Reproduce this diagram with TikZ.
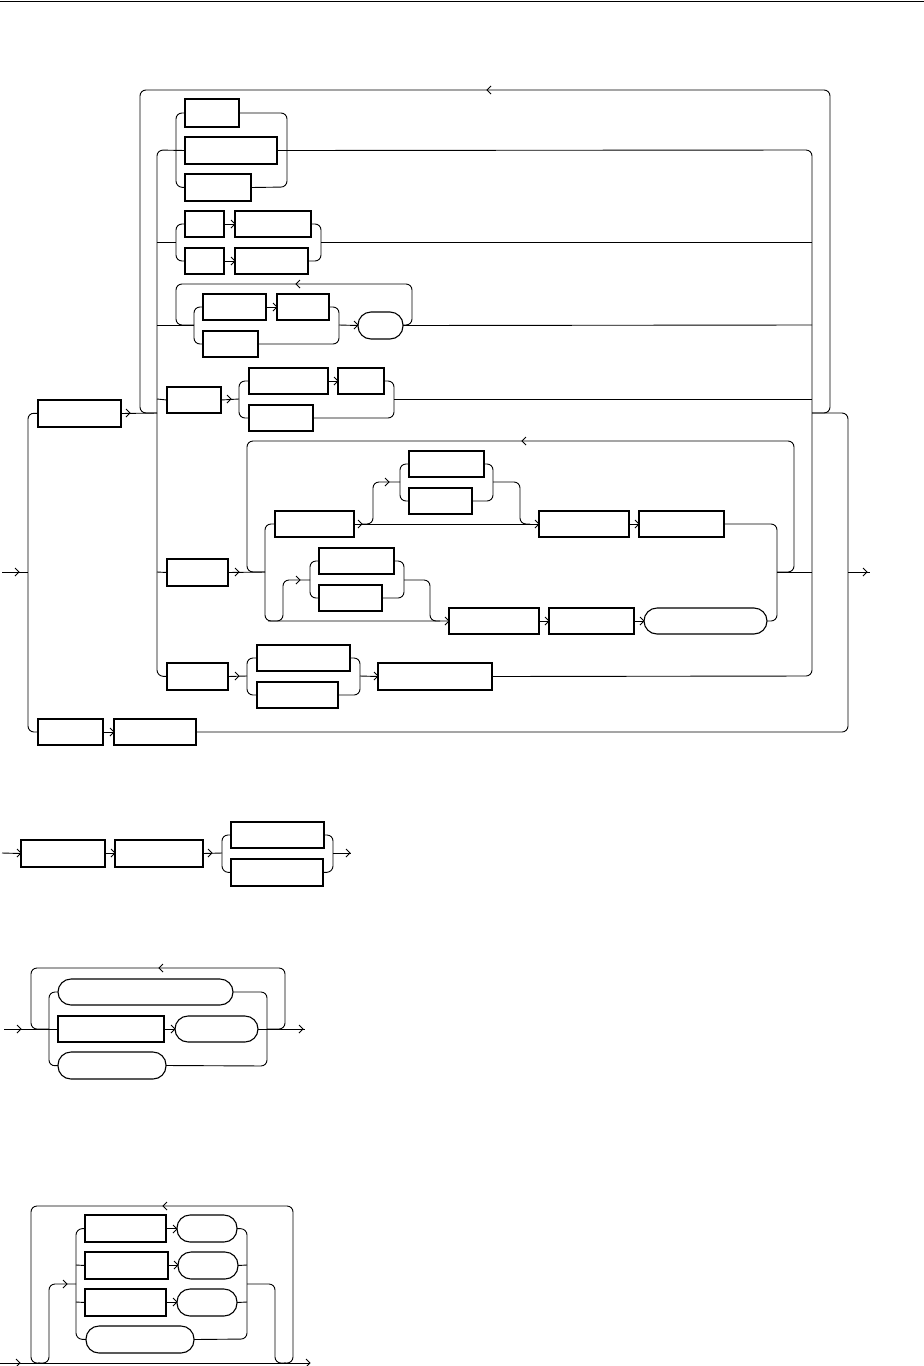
\documentclass[tikz,border=0pt]{standalone}
\usepackage{tikz}
\newcommand{\bx}[6]{%
  \node[draw, line width=#6, inner sep=0pt, outer sep=0pt, anchor=north west,
        minimum width={(#4-#2)*1pt}, minimum height={(#5-#3)*1pt}] (#1) at (#2,#3) {};
  \draw[line width=1.8pt] (#1.north east) -- (#1.south east) -- (#1.south west);}
\newcommand{\tm}[5]{%
  \node[draw, line width=1.1pt, rounded corners=13pt, inner sep=0pt, outer sep=0pt, anchor=north west,
        minimum width={(#4-#2)*1pt}, minimum height={(#5-#3)*1pt}] (#1) at (#2,#3) {};}
\newcommand{\arR}[2]{\draw ({#1-4},{#2-4}) -- (#1,#2) -- ({#1-4},{#2+4});}
\newcommand{\arL}[2]{\draw ({#1+4},{#2-4}) -- (#1,#2) -- ({#1+4},{#2+4});}
\begin{document}
\begin{tikzpicture}[x=1pt,y=-1pt,line width=0.9pt,rc/.style={rounded corners=6pt}]
\useasboundingbox (0,0) rectangle (924,1366);
\fill[white] (0,0) rectangle (924,1366);
\draw[line width=1pt] (0,1) -- (924,1);

% ---------------- diagram 1 : boxes ----------------
\bx{A}{38}{400}{121}{427}{1.8pt}
\bx{B1}{185}{99}{239}{127}{1.1pt}
\bx{B2}{185}{137}{277}{164}{1.8pt}
\bx{B3}{185}{174}{251}{201}{1.1pt}
\bx{B4}{185}{211}{224}{237}{1.1pt}
\bx{B5}{235}{211}{311}{237}{1.8pt}
\bx{B6}{185}{248}{224}{274}{1.1pt}
\bx{B7}{235}{248}{308}{274}{1.8pt}
\bx{B8}{203}{294}{266}{320}{1.8pt}
\bx{B9}{277}{294}{329}{320}{1.1pt}
\bx{B10}{203}{331}{258}{357}{1.8pt}
\tm{T1}{358}{312}{403}{339}
\bx{B11}{167}{387}{221}{413}{1.1pt}
\bx{B12}{249}{368}{328}{394}{1.8pt}
\bx{B13}{338}{368}{384}{394}{1.1pt}
\bx{B14}{249}{405}{313}{431}{1.8pt}
\bx{B15}{167}{559}{228}{586}{1.1pt}
\bx{B16}{275}{511}{354}{537}{1.8pt}
\bx{B17}{409}{451}{484}{477}{1.8pt}
\bx{B18}{409}{488}{472}{514}{1.8pt}
\bx{B19}{539}{511}{629}{537}{1.1pt}
\bx{B20}{639}{511}{724}{537}{1.8pt}
\bx{B21}{319}{548}{394}{574}{1.8pt}
\bx{B22}{319}{585}{382}{611}{1.8pt}
\bx{B23}{449}{608}{539}{634}{1.8pt}
\bx{B24}{549}{608}{634}{634}{1.1pt}
\tm{T2}{644}{608}{767}{634}
\bx{B25}{167}{663}{228}{690}{1.1pt}
\bx{B26}{257}{645}{350}{671}{1.8pt}
\bx{B27}{257}{682}{338}{708}{1.8pt}
\bx{B28}{378}{663}{492}{690}{1.8pt}
\bx{B29}{38}{719}{103}{745}{1.1pt}
\bx{B30}{114}{719}{196}{745}{1.8pt}

% ---------------- diagram 1 : connectors ----------------
\draw (2,572) -- (28,572); \arR{19}{572}
\draw[rc] (A.west) -- (28,413) -- (28,732) -- (B29.west);
\draw (A.east) -- (157,413); \arR{130}{413}
\draw[rc] (157,413) -- (140,413) -- (140,90) -- (830,90) -- (830,413) -- (812,413); \arL{487}{90}
\draw[rc] (B2.west) -- (157,150) -- (157,676) -- (B25.west);
\draw[rc] (B2.east) -- (812,150) -- (812,676) -- (B28.east);
\draw[rc] (812,413) -- (848,413) -- (848,732) -- (B30.east);
\draw (848,572) -- (870,572); \arR{867}{572}
% group 1
\draw[rc] (B1.west) -- (176,113) -- (176,187) -- (B3.west);
\draw[rc] (B1.east) -- (287,113) -- (287,187) -- (B3.east);
% group 2
\draw (157,242) -- (176,242);
\draw[rc] (B4.west) -- (176,224) -- (176,261) -- (B6.west);
\draw (B4.east) -- (B5.west); \arR{235}{224}
\draw (B6.east) -- (B7.west); \arR{235}{261}
\draw[rc] (B5.east) -- (321,224) -- (321,261) -- (B7.east);
\draw (321,242) -- (812,242);
% group 3
\draw (157,325) -- (194,325);
\draw[rc] (194,325) -- (176,325) -- (176,284) -- (412,284) -- (412,325) -- (403,325); \arL{296}{284}
\draw[rc] (B8.west) -- (194,307) -- (194,344) -- (B10.west);
\draw (B8.east) -- (B9.west); \arR{277}{307}
\draw[rc] (B9.east) -- (339,307) -- (339,344) -- (B10.east);
\draw (339,325) -- (T1.west); \arR{358}{325}
\draw (T1.east) -- (812,325);
% group 4
\draw (157,399) -- (B11.west);
\draw (B11.east) -- (239,399); \arR{231}{399}
\draw[rc] (B12.west) -- (239,381) -- (239,418) -- (B14.west);
\draw (B12.east) -- (B13.west); \arR{338}{381}
\draw[rc] (B13.east) -- (394,381) -- (394,418) -- (B14.east);
\draw (394,399) -- (812,399);
% group 5
\draw (157,572) -- (B15.west);
\draw (B15.east) -- (265,572); \arR{239}{572}
\draw[rc] (265,572) -- (247,572) -- (247,441) -- (794,441) -- (794,572) -- (777,572); \arL{522}{441}
\draw (777,572) -- (812,572);
\draw[rc] (B16.west) -- (265,524) -- (265,621) -- (B23.west); \arR{449}{621}
\draw[rc] (268,621) -- (283,621) -- (283,580) -- (310,580); \arR{300}{580}
\draw[rc] (B21.west) -- (310,561) -- (310,598) -- (B22.west);
\draw[rc] (B21.east) -- (404,561) -- (404,598) -- (B22.east);
\draw[rc] (404,580) -- (430,580) -- (430,621) -- (440,621);
\draw (B23.east) -- (B24.west); \arR{549}{621}
\draw (B24.east) -- (T2.west); \arR{644}{621}
\draw[rc] (T2.east) -- (777,621) -- (777,524) -- (B20.east);
\draw (B16.east) -- (B19.west); \arR{362}{524} \arR{539}{524}
\draw[rc] (362,524) -- (373,524) -- (373,482) -- (400,482); \arR{389}{482}
\draw[rc] (B17.west) -- (400,464) -- (400,501) -- (B18.west);
\draw[rc] (B17.east) -- (493,464) -- (493,501) -- (B18.east);
\draw[rc] (493,482) -- (520,482) -- (520,524) -- (530,524);
\draw (B19.east) -- (B20.west); \arR{639}{524}
% group 6
\draw (B25.east) -- (247,676); \arR{239}{676}
\draw[rc] (B26.west) -- (247,658) -- (247,695) -- (B27.west);
\draw[rc] (B26.east) -- (360,658) -- (360,695) -- (B27.east);
\draw (360,676) -- (B28.west); \arR{378}{676}
% bottom row
\draw (B29.east) -- (B30.west); \arR{114}{732}

% ---------------- diagram 2 ----------------
\bx{C1}{21}{840}{105}{867}{1.1pt}
\bx{C2}{115}{840}{203}{867}{1.8pt}
\bx{C3}{231}{822}{324}{848}{1.8pt}
\bx{C4}{231}{859}{323}{886}{1.8pt}
\draw (2,853) -- (C1.west); \arR{21}{853}
\draw (C1.east) -- (C2.west); \arR{115}{853}
\draw (C2.east) -- (222,853); \arR{212}{853}
\draw[rc] (C3.west) -- (222,835) -- (222,872) -- (C4.west);
\draw[rc] (C3.east) -- (333,835) -- (333,872) -- (C4.east);
\draw (333,853) -- (351,853); \arR{350}{853}

% ---------------- diagram 3 ----------------
\tm{D1}{58}{979}{233}{1005}
\bx{D2}{58}{1016}{164}{1042}{1.1pt}
\tm{D3}{175}{1016}{258}{1042}
\tm{D4}{58}{1052}{166}{1079}
\draw (4,1029) -- (D2.west); \arR{21}{1029}
\draw[rc] (49,1029) -- (31,1029) -- (31,968) -- (285,968) -- (285,1029) -- (267,1029); \arL{159}{968}
\draw[rc] (D1.west) -- (49,992) -- (49,1066) -- (D4.west);
\draw (D2.east) -- (D3.west); \arR{175}{1029}
\draw[rc] (D1.east) -- (267,992) -- (267,1066) -- (D4.east);
\draw (D3.east) -- (305,1029); \arR{303}{1029}

% ---------------- diagram 4 ----------------
\bx{E1}{85}{1215}{166}{1242}{1.1pt}
\tm{F1}{177}{1215}{237}{1242}
\bx{E2}{85}{1252}{168}{1279}{1.8pt}
\tm{F2}{178}{1252}{238}{1279}
\bx{E3}{85}{1289}{166}{1316}{1.1pt}
\tm{F3}{177}{1289}{237}{1316}
\tm{F4}{86}{1326}{194}{1353}
\draw (0,1363) -- (310,1363); \arR{20}{1363} \arR{310}{1363}
\draw[rc] (40,1363) -- (31,1363) -- (31,1206) -- (293,1206) -- (293,1363) -- (284,1363); \arL{163}{1206}
\draw[rc] (38,1363) -- (49,1363) -- (49,1284) -- (76,1284); \arR{67}{1284}
\draw[rc] (E1.west) -- (76,1229) -- (76,1339) -- (F4.west);
\draw (76,1265) -- (E2.west);
\draw (76,1302) -- (E3.west);
\draw (E1.east) -- (F1.west); \arR{177}{1229}
\draw (E2.east) -- (F2.west); \arR{178}{1265}
\draw (E3.east) -- (F3.west); \arR{177}{1302}
\draw[rc] (F1.east) -- (247,1229) -- (247,1339) -- (F4.east);
\draw (F2.east) -- (247,1265);
\draw (F3.east) -- (247,1302);
\draw[rc] (247,1284) -- (275,1284) -- (275,1363) -- (286,1363);
\end{tikzpicture}
\end{document}
